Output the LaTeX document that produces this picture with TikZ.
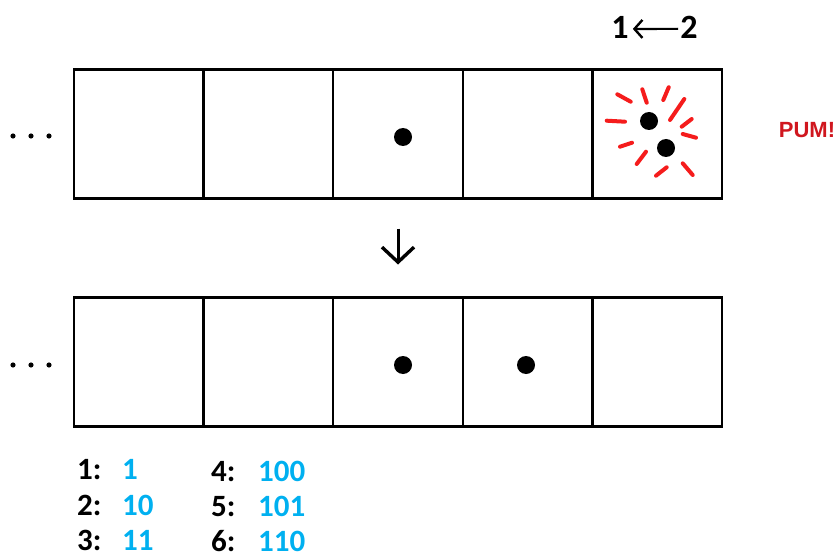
\documentclass[tikz,border=0pt]{standalone}
\usepackage{fontspec}
\setmainfont{Carlito}
\newfontfamily\pumfont{Liberation Sans}
\usetikzlibrary{arrows.meta,positioning}
\definecolor{binblue}{HTML}{00B0F0}
\definecolor{pumred}{HTML}{D0161E}
\definecolor{sparkred}{HTML}{F51C1C}

\begin{document}
\begin{tikzpicture}[x=1pt, y=-1pt,
  cell/.style={rectangle, draw, line width=2.4pt, minimum width=129.6pt, minimum height=129pt, outer sep=0pt, inner sep=0pt},
  ball/.style={circle, fill, inner sep=0pt, minimum size=18pt},
  spark/.style={sparkred, line width=4pt, line cap=round},
  lbl/.style={anchor=base west, inner sep=0pt, font=\fontsize{31}{36}\selectfont\bfseries},
  line/.style={-{Straight Barb[length=15pt, width=32pt, line width=3.4pt]}, line width=3pt}
]
\useasboundingbox (0,0) rectangle (837,556);

% upper row
\node[cell] (a1) at (138.8,134) {};
\node[cell, right=0pt of a1] (a2) {};
\node[cell, right=0pt of a2] (a3) {};
\node[cell, right=0pt of a3] (a4) {};
\node[cell, right=0pt of a4] (a5) {};

% lower row
\node[cell] (b1) at (138.8,362) {};
\node[cell, right=0pt of b1] (b2) {};
\node[cell, right=0pt of b2] (b3) {};
\node[cell, right=0pt of b3] (b4) {};
\node[cell, right=0pt of b4] (b5) {};

\foreach \x in {13,31,49} {
  \fill (\x,136) circle (2.6pt);
  \fill (\x,365) circle (2.6pt);
}

% balls
\node[ball] (p1) at (403,137) {};
\node[ball] (q1) at (403,365) {};
\node[ball] (q2) at (526,365) {};
\node[ball] (c1) at (649,121) {};
\node[ball] (c2) at (666,148) {};

% collision
\foreach \xa/\ya/\xb/\yb in {617.3/94.3/630.7/101.7, 642.3/89.3/646.7/102.7,
    668.7/87.3/663.3/100, 684.3/99/670/120, 691.7/119/681.7/126.7,
    606.7/120.7/625/121.7, 682.7/134/696/137.7, 620/146.7/632/142.7,
    646/151.7/636.7/164, 666.7/167.3/656/175.7, 682.7/163.3/692.7/175}
  \draw[spark] (\xa,\ya) -- (\xb,\yb);

\node[pumred, font=\pumfont\fontsize{22}{26}\selectfont\bfseries] (pum) at (807,130) {PUM!};

% carry
\node[anchor=base, inner sep=0pt, font=\fontsize{34}{40}\selectfont\bfseries] (one) at (620,39) {1};
\node[anchor=base, inner sep=0pt, font=\fontsize{34}{40}\selectfont\bfseries] (two) at (689,39) {2};
\draw[-{Straight Barb[length=8pt, width=18pt, line width=2.4pt]}, line width=2.2pt] ([xshift=-2pt,yshift=-1pt]two.west) -- ([xshift=4pt,yshift=-1pt]one.east);

\draw[line, shorten <=30pt, shorten >=33pt] (a3.south) -- (b3.north);

% binary counting
\node[lbl] (n1) at (77,479) {1:};
\node[lbl] (n2) at (77,515) {2:};
\node[lbl] (n3) at (77,550) {3:};
\node[lbl, binblue] (v1) at (122,479) {1};
\node[lbl, binblue] (v2) at (122,515) {10};
\node[lbl, binblue] (v3) at (122,550) {11};
\node[lbl] (n4) at (211,481) {4:};
\node[lbl] (n5) at (211,516) {5:};
\node[lbl] (n6) at (211,551) {6:};
\node[lbl, binblue] (v4) at (258,481) {100};
\node[lbl, binblue] (v5) at (258,516) {101};
\node[lbl, binblue] (v6) at (258,551) {110};
\end{tikzpicture}
\end{document}
